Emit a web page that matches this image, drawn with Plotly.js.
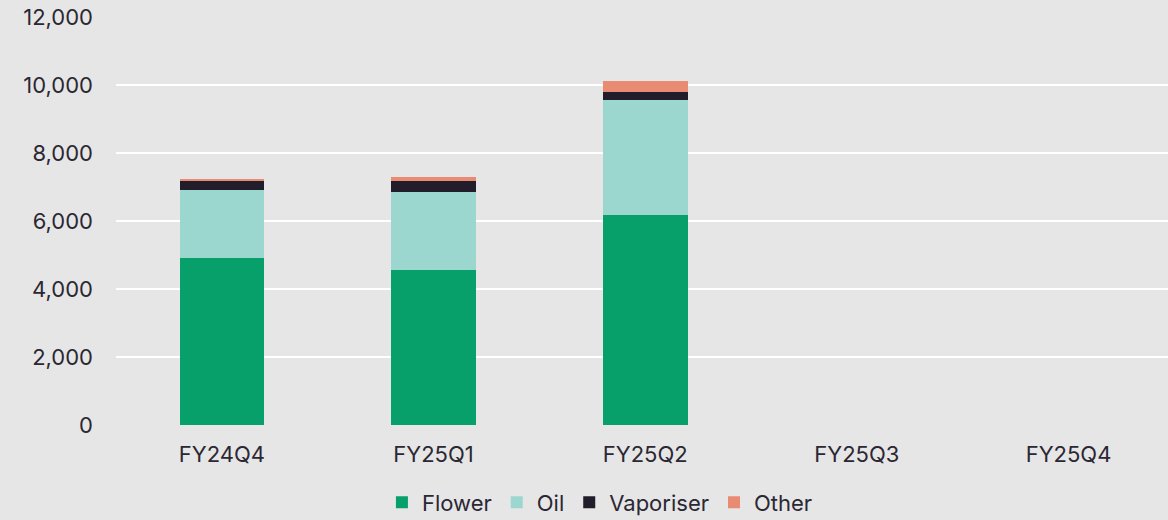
<!DOCTYPE html>
<html>
<head>
<meta charset="utf-8">
<script src="https://cdn.plot.ly/plotly-3.0.1.min.js"></script>
<style>
html,body{margin:0;padding:0;background:#e6e6e6;}
#chart{width:1168px;height:520px;}
</style>
</head>
<body>
<div id="chart"></div>
<script>
const categories = ["FY24Q4", "FY25Q1", "FY25Q2", "FY25Q3", "FY25Q4"];
const flower = [4920, 4550, 6185, null, null];
const oil = [1980, 2310, 3375, null, null];
const vaporiser = [265, 305, 235, null, null];
const other = [70, 140, 330, null, null];
const yTicks = [0, 2000, 4000, 6000, 8000, 10000, 12000];

const seriesNames = ["Flower", "Oil", "Vaporiser", "Other"];
const seriesValues = [flower, oil, vaporiser, other];
const colors = ["#07a06b", "#9cd7cf", "#221d2b", "#e98a73"];

const traces = seriesNames.map((n, i) => ({
  type: "bar",
  name: n,
  x: categories,
  y: seriesValues[i],
  marker: {color: colors[i], line: {width: 0}},
  hoverinfo: "x+y+name"
}));

const textColor = "#2b2733";
const layout = {
  width: 1168,
  height: 520,
  barmode: "stack",
  bargap: 0.6,
  paper_bgcolor: "#e6e6e6",
  plot_bgcolor: "rgba(0,0,0,0)",
  margin: {l: 116, r: 0, t: 17, b: 95, autoexpand: false},
  font: {family: "Inter, 'Noto Sans', sans-serif", color: textColor, size: 22},
  xaxis: {
    type: "category",
    range: [-0.5, 4.47],
    showgrid: false,
    zeroline: false,
    showline: false,
    ticks: "",
    ticklabelstandoff: 14,
    tickfont: {size: 22, color: textColor}
  },
  yaxis: {
    range: [0, 12000],
    tickvals: yTicks,
    tickformat: ",d",
    showgrid: true,
    gridcolor: "#ffffff",
    gridwidth: 1.5,
    zeroline: false,
    showline: false,
    ticks: "",
    ticklabelstandoff: 22,
    tickfont: {size: 22, color: textColor}
  },
  showlegend: true,
  legend: {
    orientation: "h",
    x: 0.46,
    xanchor: "center",
    y: -0.19,
    yanchor: "middle",
    font: {size: 22, color: textColor},
    itemwidth: 30,
    traceorder: "normal",
    bgcolor: "rgba(0,0,0,0)"
  }
};

Plotly.newPlot("chart", traces, layout, {displayModeBar: false, staticPlot: true});
</script>
</body>
</html>
